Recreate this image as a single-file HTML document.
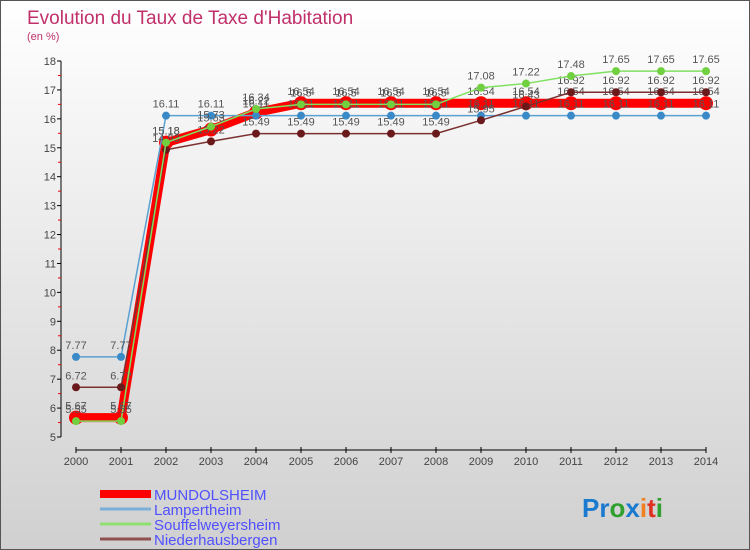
<!DOCTYPE html>
<html><head><meta charset="utf-8"><style>
body{margin:0;width:750px;height:550px;overflow:hidden;font-family:"Liberation Sans",sans-serif}
#c{position:absolute;left:0;top:0;width:748px;height:548px;border:1px solid #555;background:linear-gradient(#fff,#d0d0d0)}
</style></head><body>
<div id="c"></div>
<svg id="s" width="750" height="550" style="position:absolute;left:0;top:0"></svg>
<script>
const years=[2000,2001,2002,2003,2004,2005,2006,2007,2008,2009,2010,2011,2012,2013,2014];
const yTicks=[5,6,7,8,9,10,11,12,13,14,15,16,17,18];
const mundolsheim=[5.67,5.67,15.18,15.63,16.22,16.54,16.54,16.54,16.54,16.54,16.54,16.54,16.54,16.54,16.54];
const lampertheim=[7.77,7.77,16.11,16.11,16.11,16.11,16.11,16.11,16.11,16.11,16.11,16.11,16.11,16.11,16.11];
const souffel=[5.55,5.55,15.18,15.73,16.34,16.5,16.5,16.5,16.5,17.08,17.22,17.48,17.65,17.65,17.65];
const nieder=[6.72,6.72,14.93,15.22,15.49,15.49,15.49,15.49,15.49,15.95,16.43,16.92,16.92,16.92,16.92];
const NS="http://www.w3.org/2000/svg",s=document.getElementById('s');
const X=i=>76+i*45, Y=v=>437-(v-5)*(376/13);
function el(t,a,p){const e=document.createElementNS(NS,t);for(const k in a)e.setAttribute(k,a[k]);(p||s).appendChild(e);return e;}
let t=el('text',{x:27,y:24,'font-size':19,fill:'#c0306a'});t.textContent="Evolution du Taux de Taxe d'Habitation";

t=el('text',{x:27,y:40,'font-size':11,fill:'#c0306a'});t.textContent="(en %)";

el('line',{x1:61,y1:61,x2:61,y2:470-33,stroke:'#000'});
yTicks.forEach(v=>{el('line',{x1:57,x2:61,y1:Y(v),y2:Y(v),stroke:'#000'});
 if(v<18)el('line',{x1:58,x2:61,y1:Y(v+0.5),y2:Y(v+0.5),stroke:'#e00'});
 const tt=el('text',{x:56,y:Y(v)+4,'font-size':11,fill:'#444','text-anchor':'end'});tt.textContent=v;
 });
el('line',{x1:76,y1:450,x2:706,y2:450,stroke:'#000'});
years.forEach((y,i)=>{el('line',{x1:X(i),x2:X(i),y1:447,y2:453,stroke:'#000'});
 const tt=el('text',{x:X(i),y:465,'font-size':11,fill:'#444','text-anchor':'middle'});tt.textContent=y;
 });
function series(d,col,w,r,dot,name){const g=el('g',{});
 el('polyline',{points:d.map((v,i)=>X(i)+','+Y(v)).join(' '),fill:'none',stroke:col,'stroke-width':w},g);
 d.forEach((v,i)=>{el('circle',{cx:X(i),cy:Y(v),r:r,fill:dot},g);
  const tt=el('text',{x:X(i),y:Y(v)-8,'font-size':11,fill:'#555','text-anchor':'middle'},g);tt.textContent=v;});}
series(mundolsheim,'#f00',9,7,'#f00','series-mundolsheim');
series(lampertheim,'#5aa0d0',1.5,4,'#3a8ac8','series-lampertheim');
series(nieder,'#7a3030',1.5,4,'#6a1a1a','series-niederhausbergen');
series(souffel,'#80e060',1.5,4,'#70d040','series-souffelweyersheim');
const leg=[['MUNDOLSHEIM','#f00',8],['Lampertheim','#7ab0d8',3],['Souffelweyersheim','#90e070',3],['Niederhausbergen','#905050',3]];
leg.forEach((l,i)=>{const g=el('g',{});
 el('line',{x1:100,x2:151,y1:494+i*15,y2:494+i*15,stroke:l[1],'stroke-width':l[2]},g);
 const tt=el('text',{x:154,y:500+i*15,'font-size':15,fill:'#5050ff'},g);tt.textContent=l[0];});
const lg=el('text',{x:582,y:517,'font-size':26,'font-weight':'bold'});
[['Pr','#1a7ad0'],['o','#30a030'],['x','#1a7ad0'],['i','#f08020'],['t','#e03020'],['i','#30a030']].forEach(p=>{const ts=el('tspan',{fill:p[1]},lg);ts.textContent=p[0];});
</script>
</body></html>
